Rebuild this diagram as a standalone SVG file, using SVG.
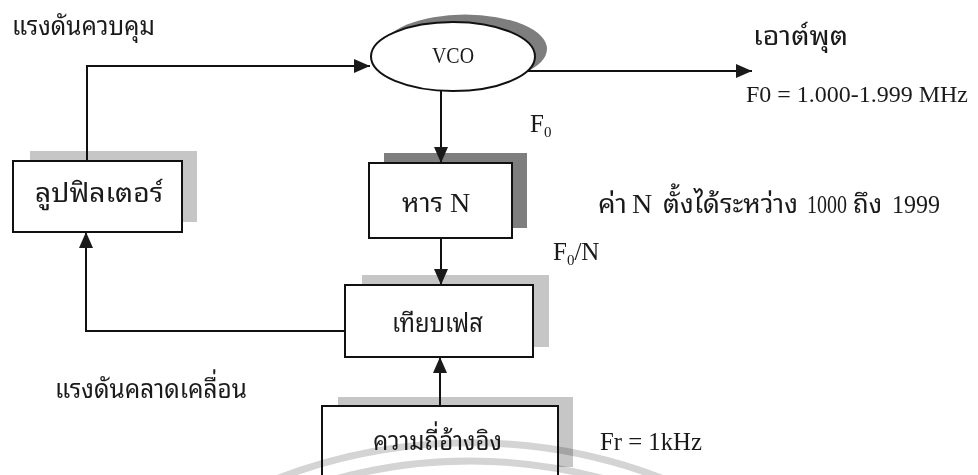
<svg xmlns="http://www.w3.org/2000/svg" width="978" height="475" viewBox="0 0 978 475">
  <style>
    .th { font-family: "Noto Sans Thai Looped", "Noto Serif Thai", "Noto Sans Thai", "Loma", "Garuda", "Noto Sans", sans-serif; font-size: 27px; fill: #1a1a1a; }
    .rm { font-family: "Liberation Serif", "Times New Roman", serif; fill: #1a1a1a; }
    .box { fill: #ffffff; stroke: #111111; stroke-width: 2; }
    .shLight { fill: #c6c6c6; }
    .shDark { fill: #7e7e7e; }
    .wire { fill: none; stroke: #111111; stroke-width: 2; }
    .stamp { fill: none; stroke: #d4d4d4; stroke-width: 7; mix-blend-mode: multiply; }
  </style>
  <defs>
    <marker id="head" viewBox="0 0 16 14" refX="16" refY="7" markerWidth="16" markerHeight="14" markerUnits="userSpaceOnUse" orient="auto">
      <path d="M0,0 L16,7 L0,14 Z" fill="#1a1a1a"/>
    </marker>
  </defs>

  <rect width="978" height="475" fill="#ffffff"/>

  <!-- VCO -->
  <g id="vco">
    <ellipse cx="465" cy="49" rx="82" ry="34.5" class="shDark"/>
    <ellipse cx="453" cy="56.5" rx="82" ry="34.5" class="box"/>
    <text x="453" y="63" class="rm" font-size="23" text-anchor="middle" textLength="42" lengthAdjust="spacingAndGlyphs">VCO</text>
  </g>

  <!-- divide by N -->
  <g id="divider">
    <rect x="384" y="153" width="143" height="75" class="shDark"/>
    <rect x="369" y="163" width="143" height="75" class="box"/>
    <text y="212"><tspan x="402" class="th" textLength="41" lengthAdjust="spacingAndGlyphs">หาร</tspan><tspan x="450" class="rm" font-size="28">N</tspan></text>
  </g>

  <!-- loop filter -->
  <g id="loop-filter">
    <rect x="30" y="151" width="167" height="71" class="shLight"/>
    <rect x="13" y="161" width="169" height="71" class="box"/>
    <text x="35" y="202" class="th" textLength="128" lengthAdjust="spacingAndGlyphs">ลูปฟิลเตอร์</text>
  </g>

  <!-- phase comparator -->
  <g id="phase-detector">
    <rect x="362" y="275" width="187" height="72" class="shLight"/>
    <rect x="345" y="285" width="188" height="72" class="box"/>
    <text x="392" y="332" class="th" textLength="91" lengthAdjust="spacingAndGlyphs">เทียบเฟส</text>
  </g>

  <!-- reference oscillator -->
  <g id="reference">
    <rect x="338" y="397" width="235" height="70" class="shLight"/>
    <rect x="322" y="406" width="236" height="80" class="box"/>
    <text x="373" y="450" class="th" textLength="129" lengthAdjust="spacingAndGlyphs">ความถี่อ้างอิง</text>
  </g>

  <!-- connectors -->
  <g id="connectors">
    <path d="M87,161 V66 H370" class="wire" marker-end="url(#head)"/>
    <path d="M528,71 H752" class="wire" marker-end="url(#head)"/>
    <path d="M441,91 V163" class="wire" marker-end="url(#head)"/>
    <path d="M441,238 V285" class="wire" marker-end="url(#head)"/>
    <path d="M440,406 V357" class="wire" marker-end="url(#head)"/>
    <path d="M345,331 H86 V232" class="wire" marker-end="url(#head)"/>
  </g>

  <!-- labels -->
  <g id="labels">
    <text x="12" y="35" class="th" textLength="143" lengthAdjust="spacingAndGlyphs">แรงดันควบคุม</text>
    <text x="753" y="45" class="th" font-size="25" textLength="95" lengthAdjust="spacingAndGlyphs">เอาต์พุต</text>
    <text x="746" y="102" class="rm" font-size="24" textLength="222" lengthAdjust="spacingAndGlyphs">F0 = 1.000-1.999 MHz</text>
    <text x="530" y="132" class="rm" font-size="25">F<tspan font-size="15" dy="5">0</tspan></text>
    <text y="213" font-size="25"><tspan x="598" class="th" font-size="25" textLength="29" lengthAdjust="spacingAndGlyphs">ค่า</tspan><tspan x="632" class="rm" font-size="28">N</tspan><tspan x="663" class="th" font-size="25" textLength="135" lengthAdjust="spacingAndGlyphs">ตั้งได้ระหว่าง</tspan><tspan x="807" class="rm" font-size="25" textLength="40" lengthAdjust="spacingAndGlyphs">1000</tspan><tspan x="853" class="th" font-size="25" textLength="29" lengthAdjust="spacingAndGlyphs">ถึง</tspan><tspan x="892" class="rm" font-size="25" textLength="48" lengthAdjust="spacingAndGlyphs">1999</tspan></text>
    <text x="553" y="260" class="rm" font-size="25">F<tspan font-size="15" dy="5">0</tspan><tspan dy="-5">/N</tspan></text>
    <text x="55" y="398" class="th" textLength="192" lengthAdjust="spacingAndGlyphs">แรงดันคลาดเคลื่อน</text>
    <text x="600" y="450" class="rm" font-size="26" textLength="102" lengthAdjust="spacingAndGlyphs">Fr = 1kHz</text>
  </g>

  <!-- faint stamp arcs -->
  <g id="stamp">
    <path d="M250,490 A536,536 0 0 1 690,490" class="stamp"/>
    <path d="M300,490 A513,513 0 0 1 640,490" class="stamp"/>
  </g>
</svg>
